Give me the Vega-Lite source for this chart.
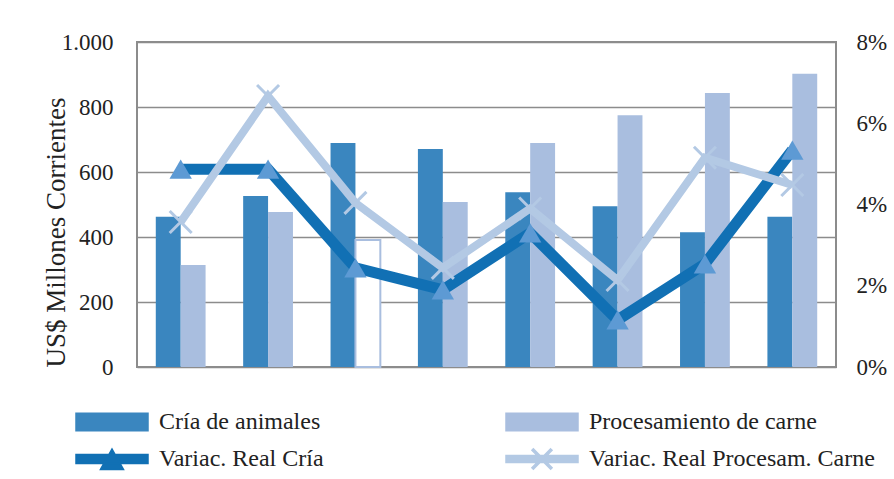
{
  "$schema": "https://vega.github.io/schema/vega-lite/v6.json",
  "width": 699,
  "height": 325,
  "autosize": {"type": "none"},
  "padding": {"left": 137, "top": 42, "right": 58, "bottom": 112},
  "background": "white",
  "config": {
    "locale": {"number": {"decimal": ",", "thousands": ".", "grouping": [3], "currency": ["$", ""]}},
    "font": "Liberation Serif, serif",
    "view": {"stroke": "#8c8c8c", "strokeWidth": 2},
    "axis": {"labelFont": "Liberation Serif, serif", "labelColor": "#222222", "labelFontSize": 23, "ticks": false, "domain": false, "grid": false, "titleFont": "Liberation Serif, serif", "titleFontWeight": "normal", "titleColor": "#222222"},
    "legend": {"padding": 0}
  },
  "data": {
    "values": [
      {"anio": "2007", "serie": "Cría de animales", "tipo": "barra", "valor": 462},
      {"anio": "2007", "serie": "Procesamiento de carne", "tipo": "barra", "valor": 314},
      {"anio": "2008", "serie": "Cría de animales", "tipo": "barra", "valor": 526},
      {"anio": "2008", "serie": "Procesamiento de carne", "tipo": "barra", "valor": 477},
      {"anio": "2009", "serie": "Cría de animales", "tipo": "barra", "valor": 689},
      {"anio": "2009", "serie": "Procesamiento de carne", "tipo": "barra", "valor": 391},
      {"anio": "2010", "serie": "Cría de animales", "tipo": "barra", "valor": 671},
      {"anio": "2010", "serie": "Procesamiento de carne", "tipo": "barra", "valor": 508},
      {"anio": "2011", "serie": "Cría de animales", "tipo": "barra", "valor": 538},
      {"anio": "2011", "serie": "Procesamiento de carne", "tipo": "barra", "valor": 689},
      {"anio": "2012", "serie": "Cría de animales", "tipo": "barra", "valor": 495},
      {"anio": "2012", "serie": "Procesamiento de carne", "tipo": "barra", "valor": 775},
      {"anio": "2013", "serie": "Cría de animales", "tipo": "barra", "valor": 415},
      {"anio": "2013", "serie": "Procesamiento de carne", "tipo": "barra", "valor": 843},
      {"anio": "2014", "serie": "Cría de animales", "tipo": "barra", "valor": 462},
      {"anio": "2014", "serie": "Procesamiento de carne", "tipo": "barra", "valor": 902},
      {"anio": "2007", "serie": "Variac. Real Cría", "tipo": "linea", "valor": 0.0487},
      {"anio": "2008", "serie": "Variac. Real Cría", "tipo": "linea", "valor": 0.0487},
      {"anio": "2009", "serie": "Variac. Real Cría", "tipo": "linea", "valor": 0.0244},
      {"anio": "2010", "serie": "Variac. Real Cría", "tipo": "linea", "valor": 0.019},
      {"anio": "2011", "serie": "Variac. Real Cría", "tipo": "linea", "valor": 0.033},
      {"anio": "2012", "serie": "Variac. Real Cría", "tipo": "linea", "valor": 0.0116},
      {"anio": "2013", "serie": "Variac. Real Cría", "tipo": "linea", "valor": 0.0254},
      {"anio": "2014", "serie": "Variac. Real Cría", "tipo": "linea", "valor": 0.0534},
      {"anio": "2007", "serie": "Variac. Real Procesam. Carne", "tipo": "linea", "valor": 0.0357},
      {"anio": "2008", "serie": "Variac. Real Procesam. Carne", "tipo": "linea", "valor": 0.0667},
      {"anio": "2009", "serie": "Variac. Real Procesam. Carne", "tipo": "linea", "valor": 0.0404},
      {"anio": "2010", "serie": "Variac. Real Procesam. Carne", "tipo": "linea", "valor": 0.0244},
      {"anio": "2011", "serie": "Variac. Real Procesam. Carne", "tipo": "linea", "valor": 0.039},
      {"anio": "2012", "serie": "Variac. Real Procesam. Carne", "tipo": "linea", "valor": 0.0214},
      {"anio": "2013", "serie": "Variac. Real Procesam. Carne", "tipo": "linea", "valor": 0.0515},
      {"anio": "2014", "serie": "Variac. Real Procesam. Carne", "tipo": "linea", "valor": 0.0448}
    ]
  },
  "layer": [
    {
      "transform": [{"filter": "datum.tipo == 'barra'"}],
      "mark": {"type": "bar", "strokeWidth": 2},
      "encoding": {
        "x": {"field": "anio", "type": "nominal", "scale": {"paddingInner": 0.43, "paddingOuter": 0.215}, "axis": {"labelAngle": 0, "labelPadding": 17, "labelFontSize": 25, "title": null}},
        "xOffset": {"field": "serie", "type": "nominal", "scale": {"domain": ["Cría de animales", "Procesamiento de carne"]}},
        "y": {"field": "valor", "type": "quantitative", "scale": {"domain": [0, 1000]}, "axis": {"values": [0, 200, 400, 600, 800, 1000], "format": ",d", "grid": true, "gridColor": "#8c8c8c", "gridWidth": 1.5, "labelPadding": 24, "title": "US$ Millones Corrientes", "titleFontSize": 27, "titleX": -81, "titleY": 190, "titleAlign": "center", "titleBaseline": "middle", "titleAngle": -90}},
        "color": {
          "condition": {"test": "datum.anio == '2009' && datum.serie == 'Procesamiento de carne'", "value": "white"},
          "field": "serie", "type": "nominal",
          "scale": {"domain": ["Cría de animales", "Variac. Real Cría", "Procesamiento de carne", "Variac. Real Procesam. Carne"], "range": ["#3a86bf", "#1170b4", "#a9bedf", "#b3c9e4"]},
          "legend": {
            "orient": "none", "legendX": -44, "legendY": 361, "columns": 2, "title": null,
            "labelFont": "Liberation Serif, serif", "labelFontSize": 24, "labelColor": "#222222",
            "symbolSize": 1296, "rowPadding": 6, "columnPadding": 179, "labelOffset": 28, "labelLimit": 400,
            "encoding": {"symbols": {
              "shape": {"condition": [
                {"test": "datum.value == 'Variac. Real Cría'", "value": "M-2,-0.25H2V0.25H-2Z M-0.64,0.58L0,-0.56L0.64,0.58Z"},
                {"test": "datum.value == 'Variac. Real Procesam. Carne'", "value": "M-2,-0.2H2V0.2H-2Z M-0.56,-0.48L-0.48,-0.56L0.56,0.48L0.48,0.56Z M0.48,-0.56L0.56,-0.48L-0.48,0.56L-0.56,0.48Z"}
              ], "value": "M-2,-0.48H2V0.48H-2Z"},
              "opacity": {"value": 1}
            }}
          }
        },
        "stroke": {"condition": {"test": "datum.anio == '2009' && datum.serie == 'Procesamiento de carne'", "value": "#a9bedf"}, "value": null}
      }
    },
    {
      "transform": [{"filter": "datum.serie == 'Variac. Real Cría'"}],
      "mark": {"type": "line", "strokeWidth": 11},
      "encoding": {
        "x": {"field": "anio", "type": "nominal", "axis": null},
        "y": {"field": "valor", "type": "quantitative", "scale": {"domain": [0, 0.08]}, "axis": {"orient": "right", "format": ".0%", "values": [0, 0.02, 0.04, 0.06, 0.08], "labelPadding": 20, "labelFontSize": 23, "grid": false, "title": null}},
        "color": {"field": "serie", "type": "nominal", "scale": {"domain": ["Cría de animales", "Variac. Real Cría", "Procesamiento de carne", "Variac. Real Procesam. Carne"], "range": ["#3a86bf", "#1170b4", "#a9bedf", "#b3c9e4"]}}
      }
    },
    {
      "transform": [{"filter": "datum.serie == 'Variac. Real Cría'"}],
      "mark": {"type": "point", "shape": "triangle-up", "filled": true, "size": 500, "color": "#5d9ad4", "opacity": 1},
      "encoding": {
        "x": {"field": "anio", "type": "nominal", "axis": null},
        "y": {"field": "valor", "type": "quantitative", "scale": {"domain": [0, 0.08]}, "axis": null}
      }
    },
    {
      "transform": [{"filter": "datum.serie == 'Variac. Real Procesam. Carne'"}],
      "mark": {"type": "line", "strokeWidth": 8},
      "encoding": {
        "x": {"field": "anio", "type": "nominal", "axis": null},
        "y": {"field": "valor", "type": "quantitative", "scale": {"domain": [0, 0.08]}, "axis": null},
        "color": {"field": "serie", "type": "nominal", "scale": {"domain": ["Cría de animales", "Variac. Real Cría", "Procesamiento de carne", "Variac. Real Procesam. Carne"], "range": ["#3a86bf", "#1170b4", "#a9bedf", "#b3c9e4"]}}
      }
    },
    {
      "transform": [{"filter": "datum.serie == 'Variac. Real Procesam. Carne'"}],
      "mark": {"type": "point", "shape": "M-1,-1L1,1M-1,1L1,-1", "filled": false, "size": 484, "strokeWidth": 3, "color": "#b3c9e4", "opacity": 1},
      "encoding": {
        "x": {"field": "anio", "type": "nominal", "axis": null},
        "y": {"field": "valor", "type": "quantitative", "scale": {"domain": [0, 0.08]}, "axis": null}
      }
    }
  ],
  "resolve": {"scale": {"y": "independent"}}
}
